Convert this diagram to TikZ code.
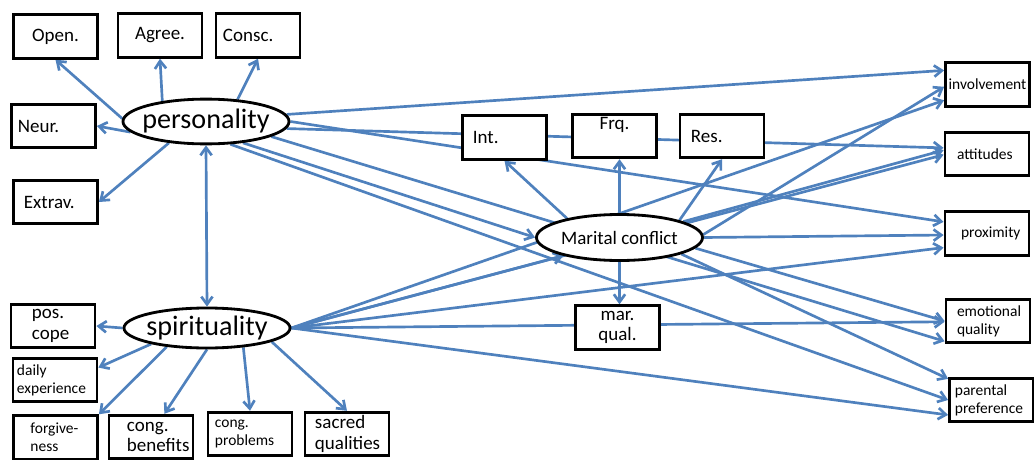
\documentclass[tikz,border=0pt]{standalone}
\usepackage{fontspec}
\setmainfont{Carlito}
\usetikzlibrary{arrows.meta,shapes.geometric,backgrounds}

\definecolor{linkblue}{RGB}{79,129,189}

\tikzset{
  box/.style={draw,line width=2pt,fill=white,minimum width=2.1cm,minimum height=1.09cm,inner sep=1pt,align=left,font=\fontsize{13.5}{14.5}\selectfont},
  smallbox/.style={box,font=\fontsize{11}{12.8}\selectfont},
  construct/.style={draw,ellipse,line width=2pt,fill=white,minimum width=4.15cm,minimum height=1.12cm,inner xsep=-6mm,inner ysep=-1mm,font=\fontsize{20}{22}\selectfont},
  link/.style={draw=linkblue,line width=1.9pt,-{Straight Barb[length=5.5pt,width=8pt]}},
  twoway/.style={link,{Straight Barb[length=5.5pt,width=8pt]}-{Straight Barb[length=5.5pt,width=8pt]}}
}

\begin{document}
\begin{tikzpicture}[x=0.025cm,y=-0.025cm]
\useasboundingbox (0,0) rectangle (1034,460);

\node [construct] (pers) at (206,121.5) {personality};
\node [construct,minimum height=1cm] (spir) at (207,328) {spirituality};
\node [construct,minimum height=1.15cm,font=\fontsize{13.5}{15}\selectfont] (mc) at (619.5,237.5) {Marital conflict};

\node [box] (open) at (55.5,36.5) {Open.};
\node [box] (agree) at (160,35.5) {Agree.};
\node [box,text width=1.75cm] (consc) at (258,35.5) {Consc.};
\node [box,text width=1.78cm] (neur) at (53.5,126) {Neur.};
\node [box,text width=1.58cm] (extrav) at (55.5,202) {Extrav.};

\node [box,text width=1.05cm] (pos) at (53,326) {pos.\\cope};
\node [smallbox,text width=1.9cm] (daily) at (55,380) {daily\\experience};
\node [smallbox,text width=1.25cm] (forg) at (55.5,437.5) {forgive-\\ness};
\node [box,text width=1.2cm] (ben) at (151,437) {cong.\\benefits};
\node [smallbox,text width=1.75cm] (prob) at (250,434) {cong.\\problems};
\node [box,text width=1.6cm] (sacred) at (347,434) {sacred\\qualities};

\node [box,text width=1.58cm] (int) at (504.5,137.5) {Int.\\[3pt]};
\node [box] (frq) at (614.5,136) {Frq.\\[3pt]};
\node [box,text width=1.55cm] (res) at (722,136) {Res.\\[3pt]};
\node [box,align=center] (mq) at (617.5,327.5) {mar.\\qual.};

\node [smallbox] (inv) at (987.5,84.5) {involvement};
\node [smallbox,text width=1.5cm] (att) at (987,154) {attitudes\\[2pt]};
\node [smallbox,text width=1.3cm] (prox) at (987,233.5) {proximity};
\node [smallbox,text width=1.55cm] (emo) at (988,321) {emotional\\quality};
\node [smallbox,text width=1.83cm] (par) at (991.5,400) {parental\\preference};

\begin{scope}[on background layer]
\foreach \a/\t in {178/open.south, 155/agree.south, 35/consc.south, 188/neur.east, 210/extrav.east}
  \draw [link] (pers.\a) -- (\t);
\foreach \a/\t in {180/pos.east, 196/daily.16, 205/forg.north east, 270/ben.60, -28/prob.north, -12/sacred.north}
  \draw [link] (spir.\a) -- (\t);
\draw [twoway] (pers.south) -- (spir.north);

\foreach \a/\t in {5/inv.162, -5/att.172, 0/prox.165, -30/mc.west, -13/emo.205, -43/par.180}
  \draw [link] (pers.\a) -- (\t);
\foreach \t in {mc.198, inv.200, att.181, prox.198, emo.181, par.199}
  \draw [link] (spir.east) -- (\t);
\foreach \a/\t in {160/int.south, 16/res.south, 2/inv.183, 14/att.175, 0/prox.182, -8/emo.180, -15/par.154}
  \draw [link] (mc.\a) -- (\t);
\draw [link] (mc.north) -- (mc.north |- frq.south);
\draw [link] (mc.south) -- (mc.south |- mq.north);
\end{scope}
\end{tikzpicture}
\end{document}
